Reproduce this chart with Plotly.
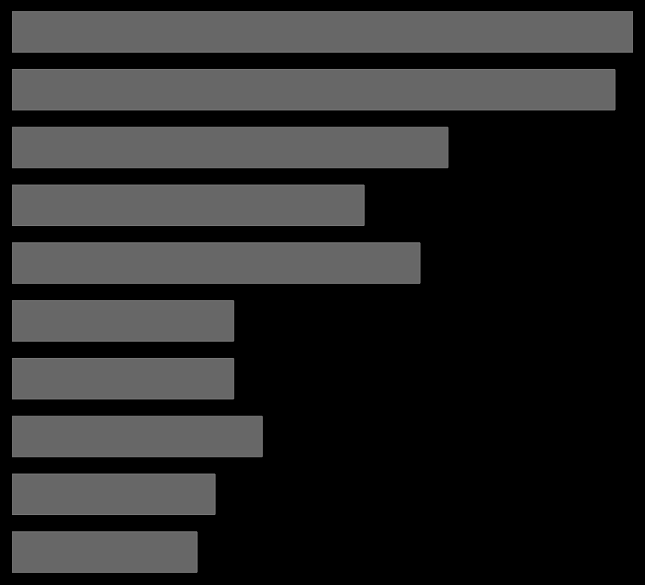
import plotly.graph_objects as go

# categories top -> bottom
categories = ["A", "B", "C", "D", "E", "F", "G", "H", "I", "J"]
values = [100, 97.1, 70.2, 56.7, 65.7, 35.7, 35.7, 40.3, 32.7, 29.8]

fig = go.Figure()

fig.add_trace(
    go.Bar(
        x=values,
        y=categories,
        orientation="h",
        width=0.7,
        marker_color="#676767",
        marker_line=dict(color="#7a7a7a", width=1),
    )
)

fig.update_layout(
    width=645,
    height=585,
    margin=dict(l=12, r=12, t=3, b=4),
    paper_bgcolor="black",
    plot_bgcolor="black",
    showlegend=False,
)
fig.update_xaxes(visible=False, range=[0, 100])
fig.update_yaxes(visible=False, autorange="reversed")

# page itself black, no body margin, no modebar
fig.write_html(
    "out.html",
    config={"displayModeBar": False},
    post_script="document.body.style.margin='0';document.body.style.background='black';",
)
